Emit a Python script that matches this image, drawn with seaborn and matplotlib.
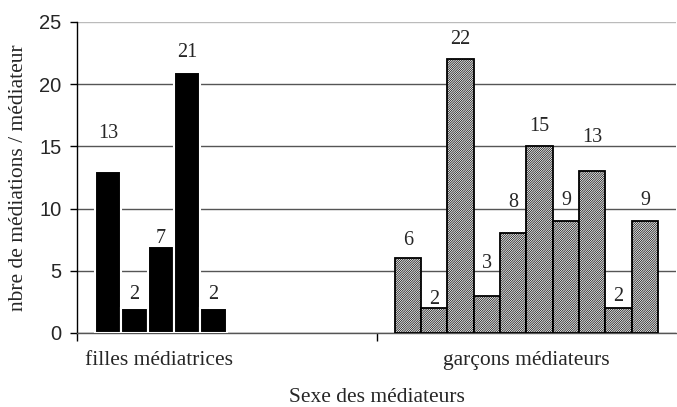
import pandas as pd
import numpy as np
import matplotlib
matplotlib.use("Agg")
import matplotlib.pyplot as plt
import matplotlib.transforms as mtransforms
import seaborn as sns

groupes = ["filles médiatrices", "garçons médiateurs"]
filles = [13, 2, 7, 21, 2]
garcons = [6, 2, 22, 3, 8, 15, 9, 13, 2, 9]

# vertical offset of each value label above its bar (points)
pad_filles = [27, 10, 5, 14, 10]
pad_garcons = [13, 6, 14, 23, 22, 14, 15, 24, 8, 15]

rows = []
for i, v in enumerate(filles):
    rows.append({"groupe": groupes[0], "rang": str(i), "n": v})
for i, v in enumerate(garcons):
    rows.append({"groupe": groupes[1], "rang": str(i), "n": v})
df = pd.DataFrame(rows)

sns.set_style("white")
plt.rcParams["hatch.linewidth"] = 0.5
plt.rcParams["font.family"] = ["Liberation Serif", "DejaVu Serif"]

fig = plt.figure(figsize=(6.77, 4.07), dpi=100)
ax = fig.add_axes([0.1137, 0.182, 0.885, 0.764])

order_hue = [str(i) for i in range(10)]
sns.barplot(data=df, x="groupe", y="n", hue="rang", hue_order=order_hue,
            order=groupes, dodge=True, width=0.88, gap=0, legend=False,
            palette=["black"] * 10, ax=ax, zorder=3)

pads = {0: pad_filles, 1: pad_garcons}
vals = {0: filles, 1: garcons}
count = {0: 0, 1: 0}
for p in sorted(ax.patches, key=lambda r: r.get_x()):
    g = 0 if p.get_x() + p.get_width() / 2 < 0.5 else 1
    k = count[g]
    count[g] += 1
    if g == 0:
        p.set_facecolor("black")
        p.set_edgecolor("white")
        p.set_linewidth(1.5)
    else:
        p.set_facecolor("white")
        p.set_edgecolor("black")
        p.set_hatch("///////////////")
        p.set_linewidth(1.3)
    ax.annotate(str(vals[g][k]), (p.get_x() + p.get_width() / 2, p.get_height()),
                xytext=(0, pads[g][k]), textcoords="offset points",
                ha="center", va="center", fontsize=14.5, zorder=4)

ax.set_ylim(0, 25)
ax.set_xlim(-0.5, 1.5)
ax.set_yticks([0, 5, 10, 15, 20, 25])
ax.yaxis.grid(True, color="#555555", linewidth=1.0, zorder=0)
ax.get_ygridlines()[-1].set_color("#bbbbbb")
ax.set_axisbelow(True)

for s in ["top", "right"]:
    ax.spines[s].set_visible(False)
ax.spines["left"].set_color("black")
ax.spines["left"].set_linewidth(1.0)
ax.spines["bottom"].set_color("#555555")
ax.spines["bottom"].set_linewidth(1.0)

ax.tick_params(axis="y", which="major", left=True, length=5, width=1,
               color="black", pad=6, labelsize=14.5)
for lab in ax.get_yticklabels():
    lab.set_family(["Liberation Sans", "DejaVu Sans"])

# category separators as minor ticks, labels on major ticks
ax.set_xticks([-0.5, 0.5], minor=True)
ax.tick_params(axis="x", which="minor", bottom=True, length=6, width=1, color="black")
ax.tick_params(axis="x", which="major", bottom=False, length=0, pad=13, labelsize=15.5)
ax.set_xticks([0, 1])
ax.set_xticklabels(groupes)
shift = mtransforms.ScaledTranslation(-68 / 100, 0, fig.dpi_scale_trans)
lab0 = ax.get_xticklabels()[0]
lab0.set_transform(lab0.get_transform() + shift)

ax.set_xlabel("Sexe des médiateurs", fontsize=15.5, labelpad=13)
ax.set_ylabel("nbre de médiations / médiateur", fontsize=15.5, labelpad=8)

fig.savefig("out.png", dpi=100)
